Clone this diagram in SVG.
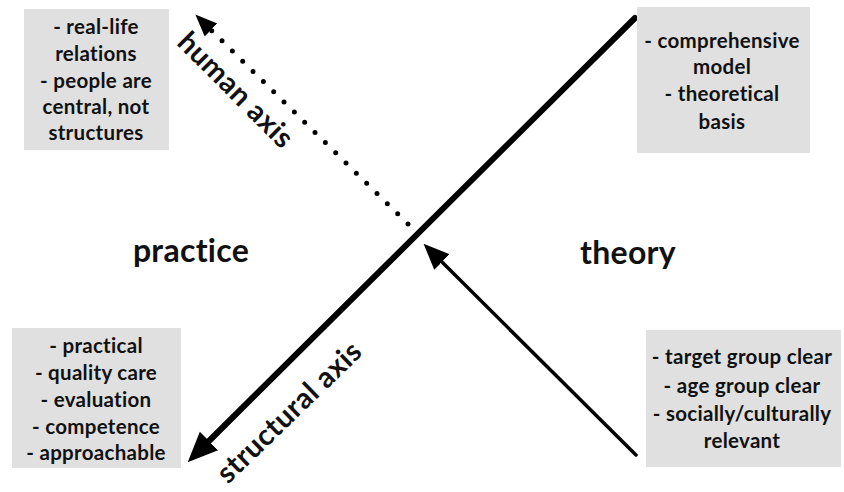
<svg xmlns="http://www.w3.org/2000/svg" width="844" height="492" viewBox="0 0 844 492">
<style>
text{font-family:Lato,"Liberation Sans",sans-serif;font-weight:bold;fill:#111;text-anchor:middle;font-variant-ligatures:none}
.box{fill:#e0e0e0}
.bt{font-size:20.5px;letter-spacing:0.3px}
.big{font-size:32px;letter-spacing:0.3px}
.ax{font-size:29px;letter-spacing:0.5px}
</style>
<defs>
<marker id="hBig" markerUnits="userSpaceOnUse" markerWidth="30" markerHeight="28" refX="0" refY="13" orient="auto"><path d="M0,0 L30,13 L0,26 z" fill="#000"/></marker>
<marker id="hDot" markerUnits="userSpaceOnUse" markerWidth="22" markerHeight="20" refX="0" refY="9" orient="auto"><path d="M0,0 L22,9 L0,18 z" fill="#000"/></marker>
<marker id="hThin" markerUnits="userSpaceOnUse" markerWidth="26" markerHeight="24" refX="0" refY="11" orient="auto"><path d="M0,0 L26,11 L0,22 z" fill="#000"/></marker>
</defs>
<g id="connectors">
<line x1="635" y1="18" x2="209" y2="441" stroke="#000" stroke-width="6" stroke-linecap="round" marker-end="url(#hBig)"/>
<line x1="408" y1="224" x2="211" y2="30" stroke="#000" stroke-width="5" stroke-linecap="round" stroke-dasharray="0 14.5" marker-end="url(#hDot)"/>
<line x1="636" y1="455" x2="442" y2="262" stroke="#000" stroke-width="3.5" stroke-linecap="round" marker-end="url(#hThin)"/>
</g>
<g id="box-human">
<rect class="box" x="24" y="9" width="145" height="141"/>
<text class="bt" x="96" y="34">- real-life</text>
<text class="bt" x="96" y="61">relations</text>
<text class="bt" x="96" y="88">- people are</text>
<text class="bt" x="96" y="114">central, not</text>
<text class="bt" x="96" y="140">structures</text>
</g>
<g id="box-theory">
<rect class="box" x="637" y="7" width="173" height="146"/>
<text class="bt" x="722" y="48">- comprehensive</text>
<text class="bt" x="722" y="74">model</text>
<text class="bt" x="722" y="101">- theoretical</text>
<text class="bt" x="722" y="129">basis</text>
</g>
<g id="box-practice">
<rect class="box" x="12" y="328" width="169" height="140"/>
<text class="bt" x="96" y="353">- practical</text>
<text class="bt" x="96" y="380">- quality care</text>
<text class="bt" x="96" y="407">- evaluation</text>
<text class="bt" x="96" y="434">- competence</text>
<text class="bt" x="96" y="460">- approachable</text>
</g>
<g id="box-structural">
<rect class="box" x="646" y="330" width="195" height="137"/>
<text class="bt" x="742" y="364">- target group clear</text>
<text class="bt" x="742" y="393">- age group clear</text>
<text class="bt" x="742" y="421">- socially/culturally</text>
<text class="bt" x="742" y="448">relevant</text>
</g>
<g id="labels">
<text class="big" x="191" y="262">practice</text>
<text class="big" x="628" y="264">theory</text>
<text class="ax" transform="translate(236,90) rotate(45)" y="10">human axis</text>
<text class="ax" transform="translate(289,412) rotate(-44)" y="10">structural axis</text>
</g>
</svg>
